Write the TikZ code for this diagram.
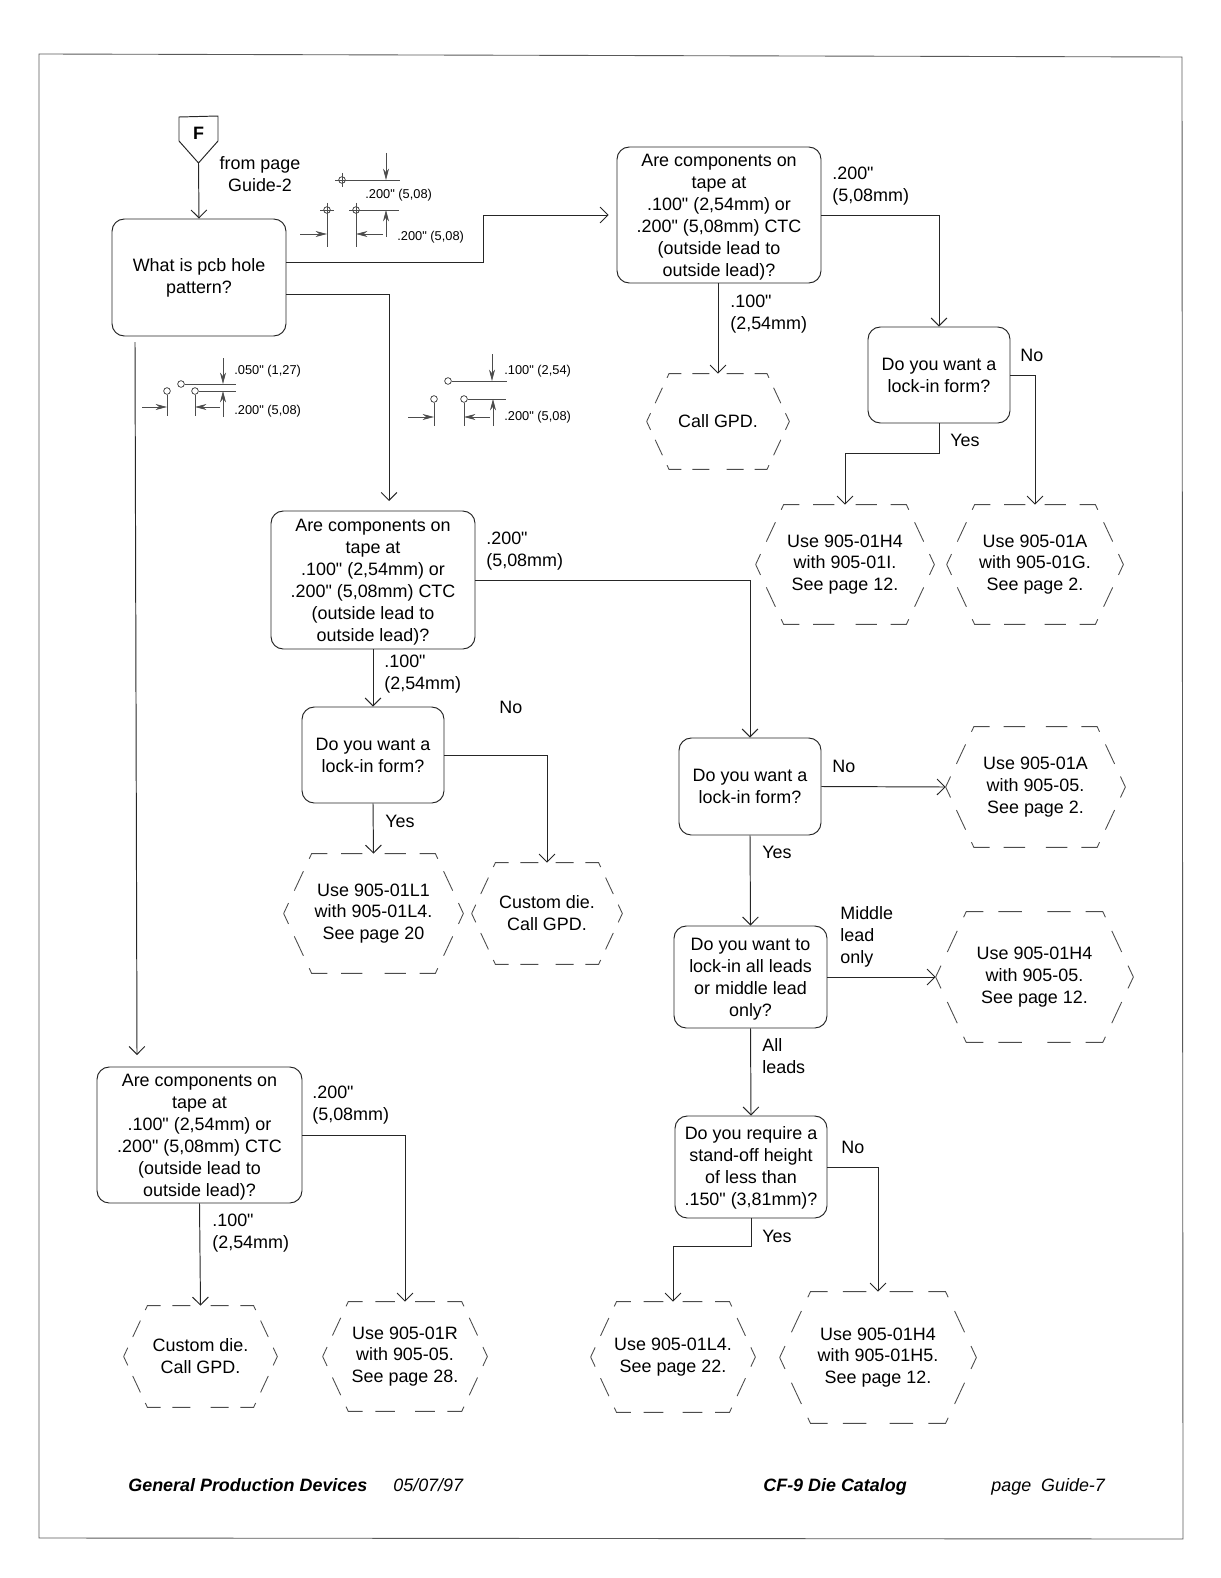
\documentclass[tikz,border=0pt]{standalone}
\usepackage{fontspec}
\setmainfont[Ligatures=TeXOff]{Liberation Sans}
\usetikzlibrary{arrows.meta}
\def\pxu{0.02cm}
\tikzset{
  every node/.style={font=\fontsize{10.2}{12.45}\selectfont},
  arr/.style={-{Straight Barb[length=4.5pt,width=9pt]},line width=0.55pt,black!85},
  plain/.style={line width=0.55pt,black!85},
  qbox/.style={draw=black!85,line width=0.55pt,rounded corners=7pt,inner sep=0pt,align=center},
  hexa/.style={inner sep=0pt,align=center},
  hexline/.style={line width=0.5pt,black!70},
  lbl/.style={anchor=west,inner sep=0pt,align=left},
  note/.style={anchor=west,inner sep=0pt,font=\fontsize{7.3}{9}\selectfont},
  foot/.style={anchor=base west,inner sep=0pt},
  hole/.style={circle,draw=black!80,line width=0.4pt,inner sep=0pt,minimum size=3.8pt},
  dimline/.style={line width=0.4pt,black!70},
  dimarr/.style={-{Stealth[length=6.5pt,width=3.4pt]},line width=0.4pt,black!70}
}
% name, x, y, width, height, text
\newcommand{\hexbox}[6]{%
  \node[hexa,minimum width=#4*\pxu,minimum height=#5*\pxu] (#1) at (#2,#3) {#6};
  \pgfmathsetmacro\hexon{0.102*#5}
  \pgfmathsetmacro\hexoff{0.066*#5}
  \pgfmathsetmacro\hexph{0.047*#5}
  \draw[hexline,dash pattern=on \hexon pt off \hexoff pt,dash phase=\hexph pt]
    (#1.west) -- ([xshift=0.235*#5*\pxu]#1.north west) -- (#1.north)
    (#1.west) -- ([xshift=0.235*#5*\pxu]#1.south west) -- (#1.south)
    (#1.east) -- ([xshift=-0.235*#5*\pxu]#1.north east) -- (#1.north)
    (#1.east) -- ([xshift=-0.235*#5*\pxu]#1.south east) -- (#1.south);
}
\newcommand{\qnode}[6]{%
  \node[qbox,minimum width=#4*\pxu,minimum height=#5*\pxu] (#1) at (#2,#3) {#6};
}
\newcommand{\tapetext}{\rule{0pt}{9.5pt}Are components on\\tape at\\.100" (2,54mm) or\\.200" (5,08mm) CTC\\(outside lead to\\outside lead)?}
\begin{document}
\begin{tikzpicture}[x=\pxu,y=-\pxu]
  \useasboundingbox (0,0) rectangle (1220,1578);
  \draw[line width=0.5pt,black!65] (39,54) -- (1182,57) -- (1183,1539) -- (39,1538) -- cycle;

  % entry marker
  \node[inner sep=0pt,font=\fontsize{10.2}{12}\bfseries] (markF) at (198.5,133) {F};
  \draw[plain] (179,117) -- (218,116) -- (218,141) -- (198.5,163) -- (179,141) -- cycle;
  \coordinate (ftip) at (198.5,163);
  \node[align=center,inner sep=0pt] (fromF) at (260,174) {from page\\Guide-2};

  % question boxes
  \qnode{hole}{199}{277.5}{174}{117}{What is pcb hole\\pattern?}
  \qnode{tapeA}{719}{215}{204}{136}{\tapetext}
  \qnode{tapeB}{373}{580}{204}{138}{\tapetext}
  \qnode{tapeC}{199.5}{1135}{205}{136}{\tapetext}
  \qnode{lockA}{939}{375}{142}{96}{Do you want a\\lock-in form?}
  \qnode{lockB}{373}{755}{142}{96}{Do you want a\\lock-in form?}
  \qnode{lockC}{750}{786.5}{142}{97}{Do you want a\\lock-in form?}
  \qnode{lockall}{750.5}{977}{153}{102}{\rule{0pt}{9.5pt}Do you want to\\lock-in all leads\\or middle lead\\only?}
  \qnode{standoff}{751}{1167}{152}{102}{\rule{0pt}{8.5pt}Do you require a\\stand-off height\\of less than\\.150" (3,81mm)?}

  % answer boxes
  \hexbox{callA}{718}{421.5}{142}{95}{Call GPD.}
  \hexbox{useHfour}{845}{564.5}{178}{119}{Use 905-01H4\\with 905-01I.\\See page 12.}
  \hexbox{useAg}{1035}{564.5}{176}{119}{Use 905-01A\\with 905-01G.\\See page 2.}
  \hexbox{useLone}{373.5}{913.5}{179}{119}{Use 905-01L1\\with 905-01L4.\\See page 20}
  \hexbox{customA}{547}{913.5}{150}{101}{Custom die.\\Call GPD.}
  \hexbox{useAfive}{1035.5}{787}{179}{120}{Use 905-01A\\with 905-05.\\See page 2.}
  \hexbox{useHfive}{1034.5}{977}{197}{130}{Use 905-01H4\\with 905-05.\\See page 12.}
  \hexbox{useLfour}{673}{1357}{164}{110}{Use 905-01L4.\\See page 22.}
  \hexbox{useHh}{878}{1357.5}{196}{131}{Use 905-01H4\\with 905-01H5.\\See page 12.}
  \hexbox{customB}{200.5}{1356.5}{153}{101}{Custom die.\\Call GPD.}
  \hexbox{useR}{405}{1356.5}{164}{109}{Use 905-01R\\with 905-05.\\See page 28.}

  % connectors
  \coordinate (holeA) at (286,262);
  \coordinate (holeB) at (286,294);
  \coordinate (holeC) at (135,342);
  \coordinate (tapeBin) at (389,501);
  \coordinate (tapeCin) at (137,1055);
  \draw[arr] (ftip) -- (hole.north);
  \draw[arr,shorten >=4.5pt] (holeA) -- ++(197,0) |- (tapeA.west);
  \draw[arr] (holeB) -| (tapeBin);
  \draw[arr] (holeC) -- (tapeCin);
  \draw[arr] (tapeA.south -| callA.north) -- (callA.north);
  \draw[arr] (tapeA.east) -| (lockA.north);
  \draw[arr] (lockA.south) -- ++(0,30) -| (useHfour.north);
  \draw[arr] (lockA.east) -| (useAg.north);
  \draw[arr] (tapeB.south) -- (lockB.north);
  \draw[arr] (tapeB.east) -| (lockC.north);
  \draw[arr] (lockB.south) -- (useLone.north);
  \draw[arr] (lockB.east) -| (customA.north);
  \draw[arr] (lockC.east) -- (useAfive.west);
  \draw[arr] (lockC.south) -- (lockall.north);
  \draw[arr] (lockall.east) -- (useHfive.west);
  \draw[arr] (lockall.south) -- (standoff.north);
  \draw[arr] (standoff.south) -- ++(0,28) -| (useLfour.north);
  \draw[arr] (standoff.east) -| (useHh.north);
  \draw[arr] (tapeC.south) -- (customB.north);
  \draw[arr] (tapeC.east) -| (useR.north);

  % connector labels
  \node[lbl] (lblAhi) at (832,186) {.200"\\(5,08mm)};
  \node[lbl] (lblAlo) at (730,314) {.100"\\(2,54mm)};
  \node[lbl] (lblBhi) at (486,551) {.200"\\(5,08mm)};
  \node[lbl] (lblBlo) at (384,674.5) {.100"\\(2,54mm)};
  \node[lbl] (lblChi) at (312,1105.5) {.200"\\(5,08mm)};
  \node[lbl] (lblClo) at (212,1233.5) {.100"\\(2,54mm)};
  \node[lbl] (noA) at (1020,355) {No};
  \node[lbl] (yesA) at (950,440) {Yes};
  \node[lbl] (noB) at (499,707) {No};
  \node[lbl] (yesB) at (385,821) {Yes};
  \node[lbl] (noC) at (832,766) {No};
  \node[lbl] (yesC) at (762,852) {Yes};
  \node[lbl] (midlead) at (840,937) {Middle\\lead\\only};
  \node[lbl] (allleads) at (762,1056) {All\\leads};
  \node[lbl] (noD) at (841,1147) {No};
  \node[lbl] (yesD) at (762,1236) {Yes};

  % hole pattern sketches
  \foreach \hx/\hy in {342/180,327/210,356/210} {
    \node[hole] (h\hx) at (\hx,\hy) {};
    \draw[dimline] (\hx-7,\hy) -- (\hx+7,\hy) (\hx,\hy-7) -- (\hx,\hy+7);
  }
  \draw[dimline] (h342) -- (400,180) (h356) -- (399,210) (h327) -- (327,247) (h356) -- (356,247);
  \draw[dimarr] (386,153) -- (386,180);
  \draw[dimarr] (386,237) -- (386,210);
  \draw[dimarr] (300,234) -- (327,234);
  \draw[dimarr] (383,234) -- (356,234);
  \node[note] (dimAa) at (365,195) {.200" (5,08)};
  \node[note] (dimAb) at (397,237) {.200" (5,08)};

  \foreach \hx/\hy in {181/384,167/391,195/391} {
    \node[hole] (h\hx) at (\hx,\hy) {};
  }
  \draw[dimline] (h181) -- (236,384) (h195) -- (236,391) (h167) -- (167,416) (h195) -- (195,416);
  \draw[dimarr] (223,358) -- (223,384);
  \draw[dimarr] (223,417) -- (223,391);
  \draw[dimarr] (142,407) -- (167,407);
  \draw[dimarr] (220,407) -- (195,407);
  \node[note] (dimBa) at (234,371) {.050" (1,27)};
  \node[note] (dimBb) at (234,411) {.200" (5,08)};

  \foreach \hx/\hy in {448/381,434/399,464/399} {
    \node[hole] (h\hx) at (\hx,\hy) {};
  }
  \draw[dimline] (h448) -- (507,381) (h464) -- (506,399) (h434) -- (434,426) (h464) -- (464,426);
  \draw[dimarr] (492,354) -- (492,381);
  \draw[dimarr] (493,426) -- (493,399);
  \draw[dimarr] (408,417) -- (434,417);
  \draw[dimarr] (490,417) -- (464,417);
  \node[note] (dimCa) at (504,371) {.100" (2,54)};
  \node[note] (dimCb) at (504,417) {.200" (5,08)};

  % footer
  \node[foot,font=\fontsize{10.2}{12}\bfseries\itshape] (footA) at (128,1491) {General Production Devices};
  \node[foot,font=\fontsize{10.2}{12}\itshape] (footB) at (393,1491) {05/07/97};
  \node[foot,font=\fontsize{10.2}{12}\bfseries\itshape] (footC) at (763,1491) {CF-9 Die Catalog};
  \node[foot,font=\fontsize{10.2}{12}\itshape] (footD) at (991,1491) {page\ \ Guide-7};
\end{tikzpicture}
\end{document}
